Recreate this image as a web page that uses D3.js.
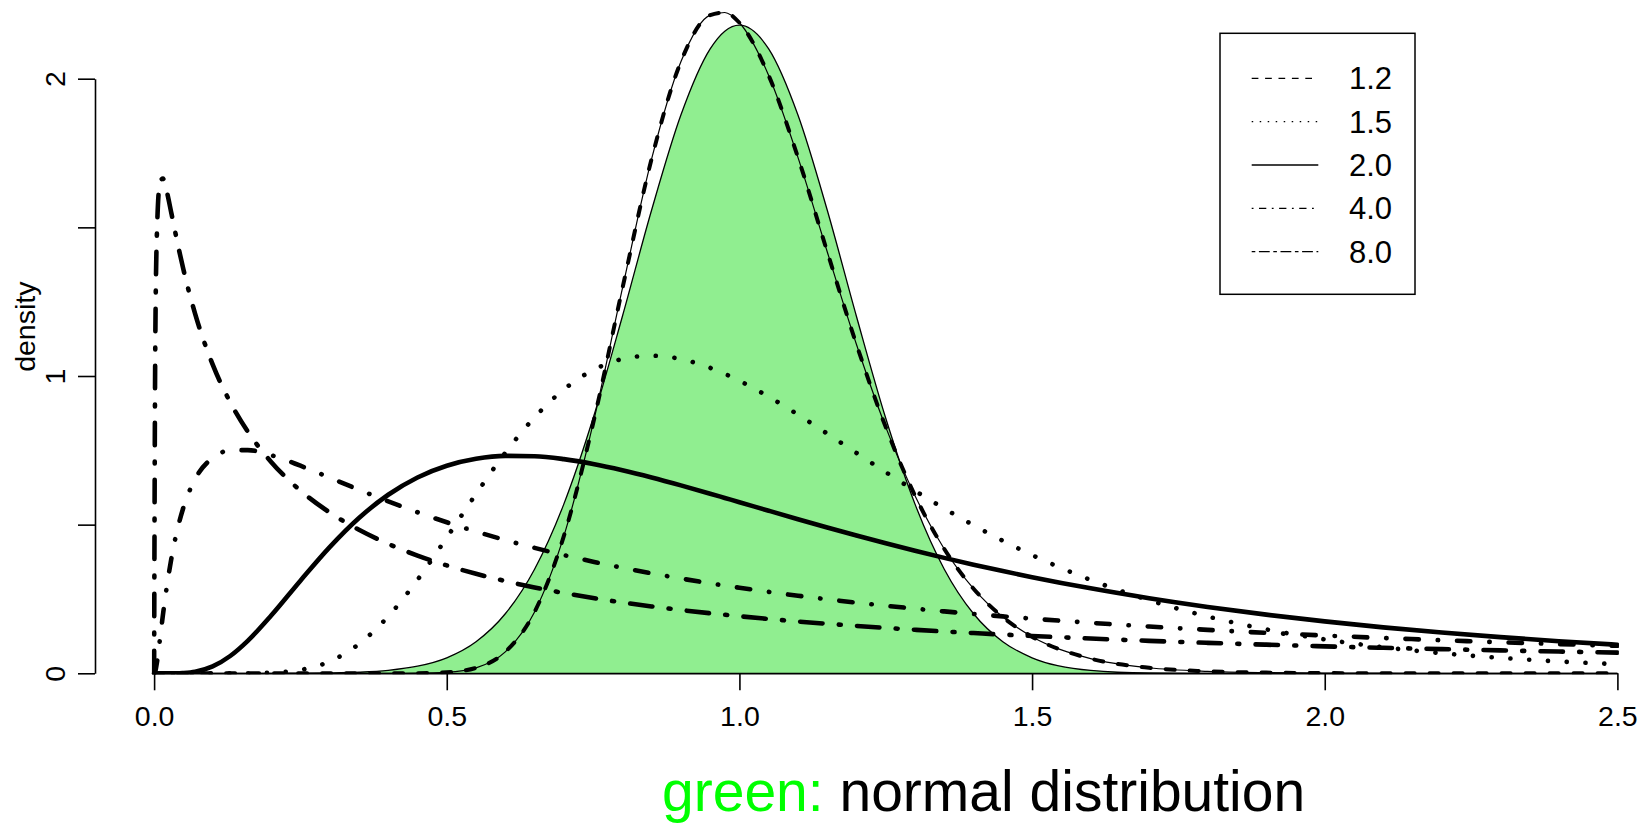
<!DOCTYPE html>
<html>
<head>
<meta charset="utf-8">
<script src="https://cdn.jsdelivr.net/npm/d3@7"></script>
<style>
  body { margin: 0; background: #fff; }
  svg { display: block; font-family: 'Liberation Sans', Arial, Helvetica, sans-serif; }
</style>
</head>
<body>
<svg width="1642" height="825"></svg>
<script>
var xGrid = [0, 0.002, 0.005, 0.01, 0.015, 0.02, 0.03, 0.04, 0.05, 0.07, 0.1, 0.13, 0.16, 0.2,
    0.25, 0.3, 0.35, 0.4, 0.45, 0.5, 0.55, 0.6, 0.65, 0.7, 0.75, 0.8, 0.85, 0.9, 0.95, 0.975,
    1.0, 1.05, 1.1, 1.15, 1.2, 1.25, 1.3, 1.35, 1.4, 1.45, 1.5,
    1.6, 1.7, 1.8, 1.9, 2.0, 2.1, 2.2, 2.3, 2.4, 2.5];

var normalY = [0, 0, 0, 0, 0, 0, 0, 0, 0, 0, 0, 0, 0, 0,
    0.0005, 0.0015, 0.004, 0.0101, 0.0239, 0.0522, 0.1062, 0.2002, 0.3502, 0.569, 0.8577, 1.2, 1.5582, 1.8777, 2.1002, 2.1598,
    2.18, 2.1002, 1.8777, 1.5582, 1.2, 0.8577, 0.569, 0.3502, 0.2002, 0.1062, 0.0522,
    0.0101, 0.0015, 0.0002, 0, 0, 0, 0, 0, 0, 0];

var sd12Y = [0, 0, 0, 0, 0, 0, 0, 0, 0, 0, 0, 0, 0, 0,
    0, 0, 0, 0, 0.0003, 0.0032, 0.0184, 0.072, 0.2064, 0.4613, 0.8401, 1.2938, 1.7305, 2.0571, 2.214, 2.2227,
    2.1882, 2.0107, 1.7353, 1.4181, 1.1061, 0.828, 0.5975, 0.4182, 0.2846, 0.1891, 0.123,
    0.0493, 0.0186, 0.0067, 0.0023, 0.0008, 0.0003, 0.0001, 0, 0, 0];

var sd15Y = [0, 0, 0, 0, 0, 0, 0, 0, 0, 0, 0, 0, 0.0002, 0.0019,
    0.0114, 0.0399, 0.0985, 0.1914, 0.3144, 0.4565, 0.6033, 0.7417, 0.8608, 0.9547, 1.0199, 1.0571, 1.0682, 1.0569, 1.0274, 1.0072,
    0.9839, 0.9303, 0.8701, 0.8062, 0.7411, 0.6766, 0.6139, 0.5542, 0.4981, 0.4458, 0.3978,
    0.3141, 0.2458, 0.1911, 0.1479, 0.1141, 0.0878, 0.0675, 0.0519, 0.0398, 0.0306];

var sd20Y = [0, 0, 0, 0, 0, 0, 0, 0, 0.001, 0.0052, 0.0231, 0.0582, 0.1092, 0.1942,
    0.3116, 0.4244, 0.5223, 0.6006, 0.6588, 0.6982, 0.7215, 0.7312, 0.73, 0.7203, 0.7041, 0.6831, 0.6588, 0.6322, 0.6042, 0.5899,
    0.5756, 0.5468, 0.5183, 0.4904, 0.4633, 0.4372, 0.4121, 0.3882, 0.3654, 0.3438, 0.3234,
    0.2858, 0.2526, 0.2232, 0.1973, 0.1746, 0.1546, 0.137, 0.1216, 0.108, 0.0961];

var sd40Y = [0, 0.0062, 0.0387, 0.1155, 0.195, 0.2684, 0.3914, 0.4855, 0.5573, 0.653, 0.7244, 0.7496, 0.7507, 0.7335,
    0.6982, 0.6579, 0.6173, 0.5783, 0.5418, 0.5079, 0.4768, 0.4482, 0.4219, 0.3977, 0.3755, 0.3551, 0.3362, 0.3188, 0.3027, 0.2951,
    0.2878, 0.2739, 0.261, 0.249, 0.2378, 0.2273, 0.2174, 0.2082, 0.1996, 0.1915, 0.1838,
    0.1698, 0.1573, 0.1461, 0.1361, 0.127, 0.1188, 0.1113, 0.1045, 0.0982, 0.0925];

var sd80Y = [0, 1.102, 1.493, 1.651, 1.664, 1.634, 1.543, 1.447, 1.359, 1.21, 1.039, 0.912, 0.813, 0.711,
    0.6145, 0.5408, 0.4826, 0.4352, 0.396, 0.363, 0.3347, 0.3102, 0.2889, 0.2701, 0.2534, 0.2384, 0.225, 0.2129, 0.2019, 0.1968,
    0.1919, 0.1827, 0.1742, 0.1665, 0.1593, 0.1526, 0.1464, 0.1406, 0.1353, 0.1302, 0.1255,
    0.1169, 0.1092, 0.1024, 0.0963, 0.0907, 0.0857, 0.0812, 0.077, 0.0732, 0.0696];

var seriesLabels = ['1.2', '1.5', '2.0', '4.0', '8.0'];
var xTicks = [0, 0.5, 1, 1.5, 2, 2.5];
var yTicks = [0, 0.5, 1, 1.5, 2];

var svg = d3.select('svg');
var font = "'Liberation Sans', Arial, Helvetica, sans-serif";

var x = d3.scaleLinear().domain([0, 2.5]).range([154.1, 1617.4]);
var y = d3.scaleLinear().domain([0, 2]).range([673.3, 78.7]);

function pts(ys) {
    return xGrid.map(function(d, i) { return [d, ys[i]]; });
}

var line = d3.line()
    .x(function(d) { return x(d[0]); })
    .y(function(d) { return y(d[1]); })
    .curve(d3.curveMonotoneX);

var area = d3.area()
    .x(function(d) { return x(d[0]); })
    .y0(y(0))
    .y1(function(d) { return y(d[1]); })
    .curve(d3.curveMonotoneX);

svg.append('clipPath').attr('id', 'plotClip')
    .append('rect')
    .attr('x', x(0) - 2.5).attr('y', 0)
    .attr('width', x(2.5) - x(0) + 4).attr('height', y(0) + 1);

var plot = svg.append('g').attr('clip-path', 'url(#plotClip)');

// normal density, filled
plot.append('path')
    .attr('d', area(pts(normalY)))
    .attr('fill', '#90ee90')
    .attr('stroke', '#000')
    .attr('stroke-width', 1.3);

// thin line under the 1.2 curve
plot.append('path')
    .attr('d', line(pts(sd12Y)))
    .attr('fill', 'none')
    .attr('stroke', '#000')
    .attr('stroke-width', 1.2);

var curves = [
    {ys: sd12Y, w: 4, dash: '9,15'},
    {ys: sd15Y, w: 4.6, dash: '0.1,18.7'},
    {ys: sd20Y, w: 4.6, dash: null},
    {ys: sd40Y, w: 4.6, dash: '13.4,18.9,0.4,18.9'},
    {ys: sd80Y, w: 4.6, dash: '22.4,16.3,2,16.3'}
];

curves.forEach(function(c) {
    plot.append('path')
        .attr('d', line(pts(c.ys)))
        .attr('fill', 'none')
        .attr('stroke', '#000')
        .attr('stroke-width', c.w)
        .attr('stroke-linecap', 'round')
        .attr('stroke-linejoin', 'round')
        .attr('stroke-dasharray', c.dash);
});

// axes
var xAxis = svg.append('g')
    .attr('transform', 'translate(0,' + y(0) + ')')
    .call(d3.axisBottom(x).tickValues(xTicks).tickSize(17).tickSizeOuter(0).tickPadding(15.7)
        .tickFormat(d3.format('.1f')));

var yAxis = svg.append('g')
    .attr('transform', 'translate(95,0)')
    .call(d3.axisLeft(y).tickValues(yTicks).tickSize(17).tickSizeOuter(0)
        .tickFormat(function(d) { return Number.isInteger(d) ? d : ''; }));

[xAxis, yAxis].forEach(function(a) {
    a.selectAll('path, line').attr('stroke', '#000').attr('stroke-width', 1.6);
    a.selectAll('text').attr('fill', '#000').style('font-size', '28.5px').style('font-family', font);
});

yAxis.selectAll('text')
    .attr('x', null).attr('dy', null)
    .attr('text-anchor', 'middle')
    .attr('transform', 'translate(-30,0) rotate(-90)');

svg.append('text')
    .attr('transform', 'translate(35,326.7) rotate(-90)')
    .attr('text-anchor', 'middle')
    .style('font-size', '28.5px')
    .text('density');

// legend
var legend = svg.append('g');

legend.append('rect')
    .attr('x', 1220).attr('y', 33.3)
    .attr('width', 195).attr('height', 261)
    .attr('fill', '#fff')
    .attr('stroke', '#000')
    .attr('stroke-width', 1.5);

var legendDash = ['6.7,6.7', '1.5,6.5', null, '1.8,5.5,7.3,5.5', '3.6,3.6,10.8,3.6'];

seriesLabels.forEach(function(lab, i) {
    var ry = 78.3 + i * 43.35;
    legend.append('line')
        .attr('x1', 1251.7).attr('x2', 1318.3)
        .attr('y1', ry).attr('y2', ry)
        .attr('stroke', '#000')
        .attr('stroke-width', 1.3)
        .attr('stroke-dasharray', legendDash[i]);
    legend.append('text')
        .attr('x', 1349)
        .attr('y', ry + 11)
        .style('font-size', '31px')
        .text(lab);
});

// caption
var cap = svg.append('text')
    .attr('x', 662)
    .attr('y', 811)
    .style('font-size', '57px')
    .style('white-space', 'pre');
cap.append('tspan').attr('fill', '#00ff00').text('green: ');
cap.append('tspan').attr('fill', '#000').text('normal distribution');
</script>
</body>
</html>
